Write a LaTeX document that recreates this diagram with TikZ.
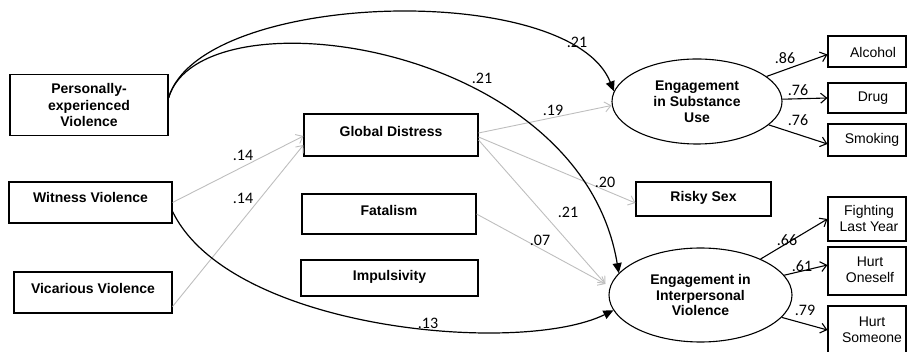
\documentclass[tikz,border=0pt]{standalone}
\usepackage{fontspec}
\setmainfont{Liberation Sans}
\newfontfamily\numfont{Carlito}
\usetikzlibrary{arrows.meta,shapes.geometric}
\definecolor{lgray}{RGB}{190,190,190}
\begin{document}
\begin{tikzpicture}[x=1pt,y=-1pt,
  box/.style={draw, line width=1.1pt, inner sep=0pt},
  btext/.style={inner sep=0pt, align=center, font=\fontsize{14}{16.5}\selectfont\bfseries},
  otext/.style={inner sep=0pt, align=center, font=\fontsize{14}{16.5}\selectfont},
  latent/.style={draw, ellipse, line width=1.1pt, inner sep=0pt, align=center, font=\fontsize{14}{15.8}\selectfont\bfseries},
  coef/.style={inner sep=0pt, font=\fontsize{16}{16}\selectfont\numfont},
  graypath/.style={draw=lgray, line width=0.9pt, -{Straight Barb[length=6pt,width=10pt,line width=0.9pt]}},
  blackpath/.style={draw=black, line width=1.1pt, -{Straight Barb[length=6pt,width=10pt,line width=1.1pt]}},
  curvepath/.style={draw=black, line width=1.2pt, -{Triangle[length=10pt,width=9pt]}}
]
\useasboundingbox (0,0) rectangle (907,352);

% exogenous boxes
\node[box, minimum width=158, minimum height=61] (pev) at (89,105) {};
\node[btext] (pevt) at (89,105) {Personally-\\experienced\\Violence};
\node[box, minimum width=163, minimum height=41] (wv) at (90.5,202.5) {};
\node[btext] (wvt) at (90.5,197) {Witness Violence};
\node[box, minimum width=158, minimum height=41] (vv) at (93,292.5) {};
\node[btext] (vvt) at (93,288) {Vicarious Violence};

% mediators
\node[box, minimum width=174, minimum height=42] (gd) at (391,135) {};
\node[btext] (gdt) at (391,131.5) {Global Distress};
\node[box, minimum width=174, minimum height=40] (fat) at (389,214) {};
\node[btext] (fatt) at (389,210) {Fatalism};
\node[box, minimum width=177, minimum height=36] (imp) at (389.5,278) {};
\node[btext] (impt) at (389.5,277) {Impulsivity};
\node[box, minimum width=135, minimum height=34] (rs) at (703.5,199) {};
\node[btext] (rst) at (703.5,198) {Risky Sex};

% latent
\node[latent, minimum width=170, minimum height=85] (esu) at (697,101.5) {Engagement\\in Substance\\Use};
\node[latent, minimum width=183, minimum height=94] (eiv) at (700.5,295) {Engagement in\\Interpersonal\\Violence};

% indicators
\node[box, minimum width=78, minimum height=31] (alc) at (867,51.5) {};
\node[otext] at (873,52) {Alcohol};
\node[box, minimum width=78, minimum height=30] (drug) at (867,98) {};
\node[otext] at (873,98) {Drug};
\node[box, minimum width=78, minimum height=32] (smk) at (867,140) {};
\node[otext] at (872,139.5) {Smoking};
\node[box, minimum width=78, minimum height=44] (fight) at (867,219) {};
\node[otext] at (869,218.5) {Fighting\\Last Year};
\node[box, minimum width=78, minimum height=48] (hone) at (867,271) {};
\node[otext] at (870,270) {Hurt\\Oneself};
\node[box, minimum width=78, minimum height=48] (hsome) at (867,330) {};
\node[otext] at (872,330) {Hurt\\Someone};

% gray paths
\draw[graypath] (wv.east) -- ([yshift=-1pt]gd.west);
\draw[graypath] ([yshift=7pt]vv.south east) -- ([yshift=-10pt]gd.west);
\draw[graypath] ([yshift=2pt]gd.east) -- ([yshift=-4pt]esu.west);
\draw[graypath] ([yshift=-2pt]gd.east) -- ([yshift=-4pt]rs.west);
\draw[graypath] ([yshift=-5pt]gd.east) -- ([xshift=-3pt,yshift=11pt]eiv.west);
\draw[graypath] (fat.east) -- ([xshift=-3pt,yshift=11pt]eiv.west);

% curved black paths
\draw[curvepath] ([yshift=7pt]pev.east) .. controls (200,-10) and (570,-20) .. (esu.173);
\draw[curvepath] ([yshift=7pt]pev.east) .. controls (200,-10) and (580,40) .. (eiv.165);
\draw[curvepath] ([yshift=-9pt]wv.east) .. controls (230,330) and (520,356) .. (eiv.190);

% measurement paths
\draw[blackpath] (esu) -- ([yshift=-3pt]alc.west);
\draw[blackpath] (esu) -- (drug.west);
\draw[blackpath] (esu) -- ([yshift=-4pt]smk.west);
\draw[blackpath] (eiv) -- (fight.west);
\draw[blackpath] (eiv) -- ([yshift=6pt]hone.west);
\draw[blackpath] (eiv) -- (hsome.west);

% coefficients
\node[coef] (c1) at (577,42) {.21};
\node[coef] (c2) at (482,78) {.21};
\node[coef] (c3) at (553,110) {.19};
\node[coef] (c4) at (243,155) {.14};
\node[coef] (c5) at (243,198) {.14};
\node[coef] (c6) at (428,323) {.13};
\node[coef] (c7) at (605,182) {.20};
\node[coef] (c8) at (568,212) {.21};
\node[coef] (c9) at (540,240) {.07};
\node[coef] (c10) at (785,58) {.86};
\node[coef] (c11) at (798,90) {.76};
\node[coef] (c12) at (798,120) {.76};
\node[coef] (c13) at (787,240) {.66};
\node[coef] (c14) at (802,266) {.61};
\node[coef] (c15) at (805,310) {.79};
\end{tikzpicture}
\end{document}
